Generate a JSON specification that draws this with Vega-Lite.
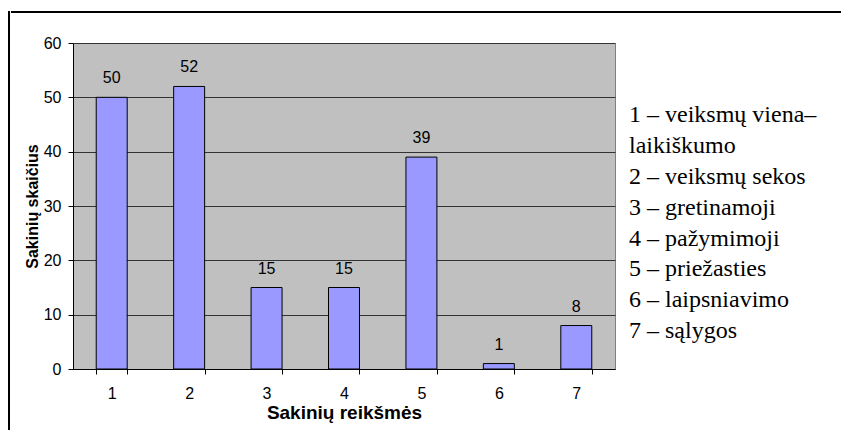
{
  "$schema": "https://vega.github.io/schema/vega-lite/v6.json",
  "autosize": {"type": "pad"},
  "padding": {"left": 8, "top": 11, "right": 0, "bottom": 0},
  "background": "white",
  "datasets": {
    "bars": [
      {"kategorija": "1", "skaicius": 50},
      {"kategorija": "2", "skaicius": 52},
      {"kategorija": "3", "skaicius": 15},
      {"kategorija": "4", "skaicius": 15},
      {"kategorija": "5", "skaicius": 39},
      {"kategorija": "6", "skaicius": 1},
      {"kategorija": "7", "skaicius": 8}
    ],
    "legend": [
      {"eile": 0, "tekstas": "1 – veiksmų viena–"},
      {"eile": 1, "tekstas": "laikiškumo"},
      {"eile": 2, "tekstas": "2 – veiksmų sekos"},
      {"eile": 3, "tekstas": "3 – gretinamoji"},
      {"eile": 4, "tekstas": "4 – pažymimoji"},
      {"eile": 5, "tekstas": "5 – priežasties"},
      {"eile": 6, "tekstas": "6 – laipsniavimo"},
      {"eile": 7, "tekstas": "7 – sąlygos"}
    ],
    "empty": []
  },
  "spacing": 0,
  "hconcat": [
    {
      "width": 0.01,
      "height": 417,
      "data": {"name": "empty"},
      "view": {"stroke": "#000000", "strokeWidth": 2, "fill": null},
      "mark": {"type": "rule"},
      "encoding": {}
    },
    {
      "spacing": 20,
      "vconcat": [
        {
          "width": 829,
          "height": 0.01,
          "data": {"name": "empty"},
          "view": {"stroke": "#000000", "strokeWidth": 2, "fill": null},
          "mark": {"type": "rule"},
          "encoding": {}
        },
        {
          "spacing": 10,
          "hconcat": [
            {
              "width": 0.01,
              "height": 0.01,
              "data": {"name": "empty"},
              "view": {"stroke": null, "fill": null},
              "mark": {"type": "rule"},
              "encoding": {}
            },
            {
              "width": 542,
              "height": 326,
              "data": {"name": "bars"},
              "view": {"fill": "#C0C0C0", "stroke": "#808080", "strokeWidth": 1},
              "encoding": {
                "x": {
                  "field": "kategorija",
                  "type": "ordinal",
                  "title": "Sakinių reikšmės",
                  "scale": {"paddingInner": 0.6, "paddingOuter": 0.3},
                  "axis": {
                    "grid": false,
                    "tickBand": "extent",
                    "tickSize": 5,
                    "tickColor": "#000000",
                    "domainColor": "#000000",
                    "labelAngle": 0,
                    "labelPadding": 11,
                    "labelFont": "Liberation Sans",
                    "labelFontSize": 16,
                    "labelColor": "#000000",
                    "titleFont": "Liberation Sans",
                    "titleFontSize": 19,
                    "titleFontWeight": "bold",
                    "titleColor": "#000000",
                    "titlePadding": 2
                  }
                },
                "y": {
                  "field": "skaicius",
                  "type": "quantitative",
                  "title": "Sakinių skaičius",
                  "scale": {"domain": [0, 60]},
                  "axis": {
                    "values": [0, 10, 20, 30, 40, 50, 60],
                    "grid": true,
                    "gridColor": "#333333",
                    "gridWidth": 1,
                    "tickSize": 5,
                    "tickColor": "#000000",
                    "domainColor": "#000000",
                    "labelPadding": 7,
                    "labelFont": "Liberation Sans",
                    "labelFontSize": 16,
                    "labelColor": "#000000",
                    "titleFont": "Liberation Sans",
                    "titleFontSize": 16,
                    "titleFontWeight": "bold",
                    "titleColor": "#000000",
                    "titlePadding": 3
                  }
                }
              },
              "layer": [
                {"mark": {"type": "bar", "fill": "#9999FF", "stroke": "#000000", "strokeWidth": 1}},
                {
                  "mark": {"type": "text", "dy": -14, "baseline": "alphabetic", "font": "Liberation Sans", "fontSize": 16, "color": "#000000"},
                  "encoding": {"text": {"field": "skaicius", "type": "quantitative"}}
                }
              ]
            },
            {
              "width": 200,
              "height": 326,
              "data": {"name": "legend"},
              "view": {"stroke": null, "fill": null},
              "mark": {"type": "text", "align": "left", "baseline": "alphabetic", "font": "Liberation Serif", "fontSize": 24, "color": "#000000"},
              "encoding": {
                "x": {"value": 3},
                "y": {"field": "eile", "type": "quantitative", "scale": {"domain": [-2.57, 8], "reverse": true}, "axis": null},
                "text": {"field": "tekstas", "type": "nominal"}
              }
            }
          ]
        }
      ]
    }
  ]
}
